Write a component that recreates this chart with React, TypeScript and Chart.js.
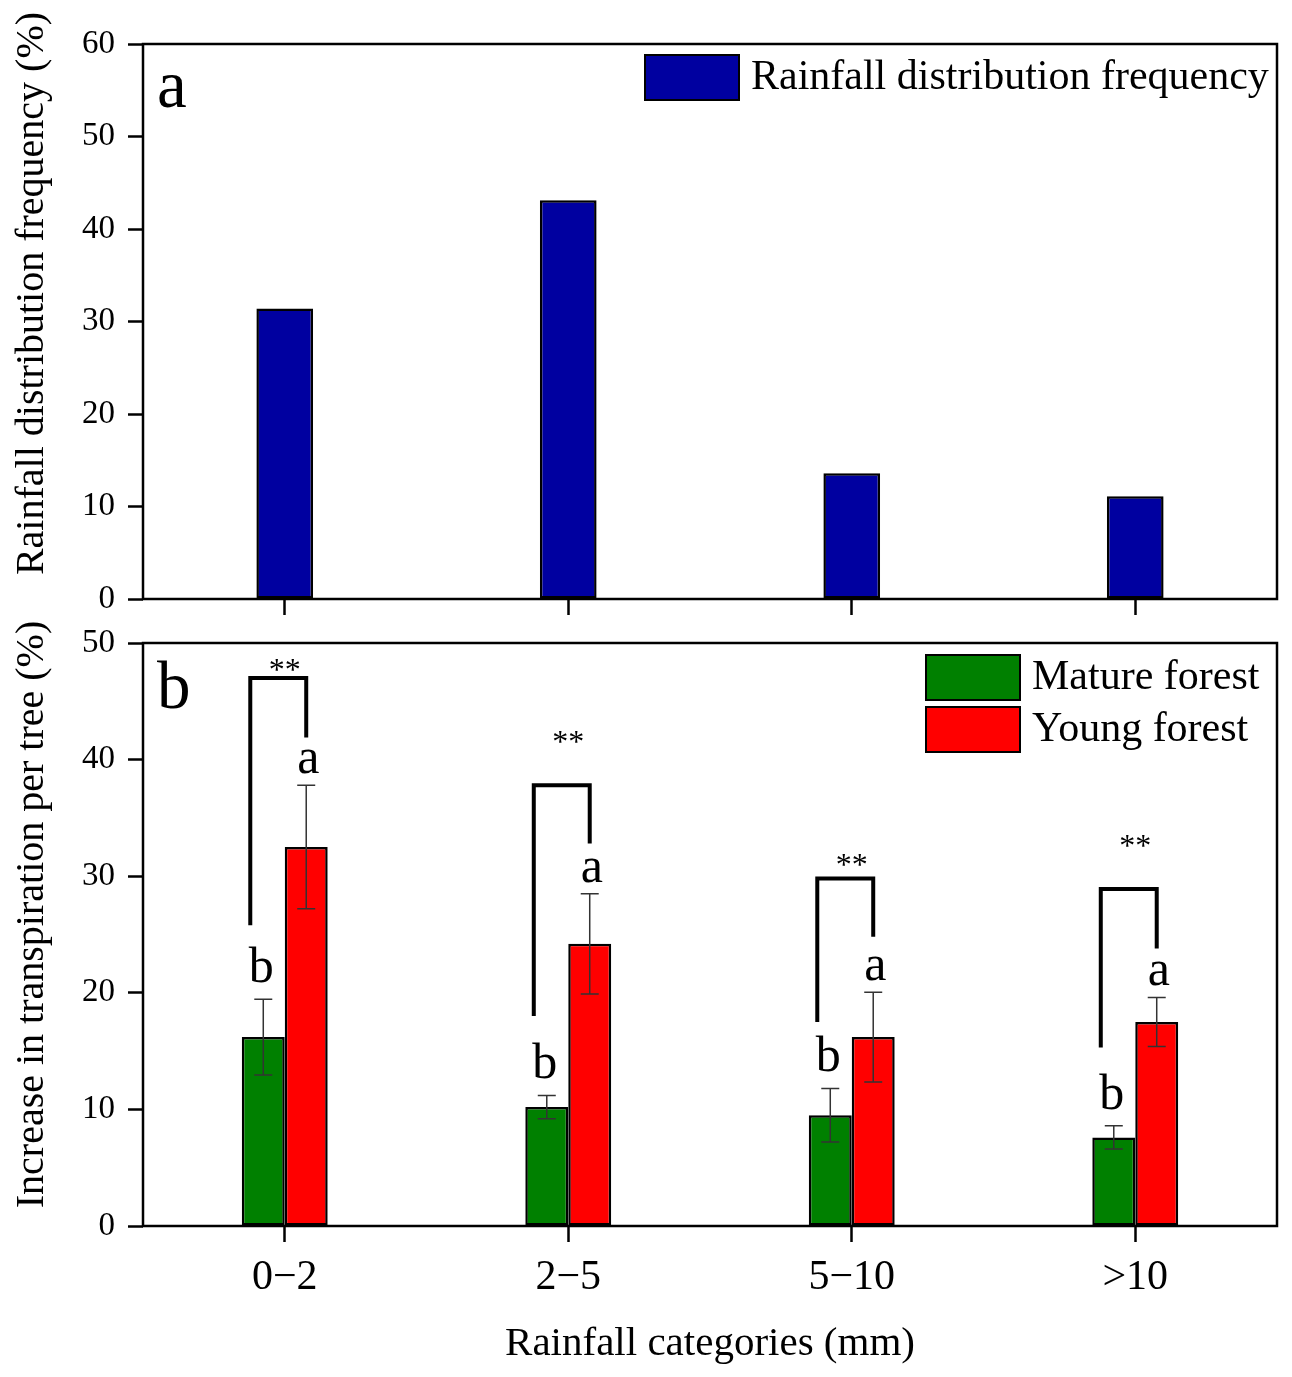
import React, { useEffect, useRef } from 'react';
import { Chart, registerables } from 'chart.js';

Chart.register(...registerables);

const SERIF = "'Liberation Serif', 'Times New Roman', serif";

// categories shared by both panels
const categories = ['0\u22122', '2\u22125', '5\u221210', '>10'];

// panel a
const rainfallFreq = [31.4, 43.1, 13.6, 11.1];

// panel b
const matureForest = [16.2, 10.2, 9.5, 7.6];
const matureErr = [3.25, 1.0, 2.3, 1.0];
const youngForest = [32.5, 24.2, 16.2, 17.5];
const youngErr = [5.3, 4.3, 3.85, 2.1];
const matureLetters = ['b', 'b', 'b', 'b'];
const youngLetters = ['a', 'a', 'a', 'a'];
const sigLabels = ['**', '**', '**', '**'];
const sigY = [48.1, 41.9, 31.4, 33.0];
const bracketTop = [47.0, 37.8, 29.8, 28.9];
const bracketLeftEnd = [25.8, 18.0, 17.5, 15.3];
const bracketRightEnd = [41.9, 32.8, 24.8, 23.8];

const BLUE = '#0000A0';
const GREEN = '#008000';
const RED = '#FF0000';

// frame + panel letter + legend + rotated y title
const panelDecor = (
  letter: string,
  letterBase: number,
  legend: { label: string; color: string }[],
  legendLeft: number,
  legendTop: number,
  yTitle: string,
  yTitleShift: number
) => ({
  id: 'panelDecor',
  afterDraw(chart: any) {
    const { ctx, chartArea: a } = chart;
    ctx.save();
    ctx.strokeStyle = '#000';
    ctx.lineWidth = 2.5;
    ctx.strokeRect(a.left, a.top, a.right - a.left, a.bottom - a.top);

    ctx.fillStyle = '#000';
    ctx.font = `67px ${SERIF}`;
    ctx.textAlign = 'left';
    ctx.textBaseline = 'alphabetic';
    ctx.fillText(letter, a.left + 14, a.top + letterBase);

    legend.forEach((item, i) => {
      const top = legendTop + i * 52;
      ctx.fillStyle = item.color;
      ctx.fillRect(legendLeft, top, 94, 45);
      ctx.lineWidth = 2;
      ctx.strokeRect(legendLeft, top, 94, 45);
      ctx.fillStyle = '#000';
      ctx.font = `42px ${SERIF}`;
      ctx.textBaseline = 'middle';
      ctx.fillText(item.label, legendLeft + 106, top + 23);
    });

    ctx.translate(32, (a.top + a.bottom) / 2 + yTitleShift);
    ctx.rotate(-Math.PI / 2);
    ctx.font = `40px ${SERIF}`;
    ctx.textAlign = 'center';
    ctx.textBaseline = 'middle';
    ctx.fillText(yTitle, 0, 0);
    ctx.restore();
  },
});

// error bars, significance letters and brackets for panel b
const annotations = {
  id: 'annotations',
  afterDatasetsDraw(chart: any) {
    const { ctx } = chart;
    const y = chart.scales.y;
    const green = chart.getDatasetMeta(0).data;
    const red = chart.getDatasetMeta(1).data;
    const xs = chart.scales.x;
    ctx.save();

    const errBar = (x: number, v: number, e: number) => {
      const t = y.getPixelForValue(v + e);
      const b = y.getPixelForValue(v - e);
      ctx.strokeStyle = '#333';
      ctx.lineWidth = 1.5;
      ctx.beginPath();
      ctx.moveTo(x, t);
      ctx.lineTo(x, b);
      ctx.moveTo(x - 9, t);
      ctx.lineTo(x + 9, t);
      ctx.moveTo(x - 9, b);
      ctx.lineTo(x + 9, b);
      ctx.stroke();
      return t;
    };

    categories.forEach((_, i) => {
      const gx = green[i].x;
      const rx = red[i].x;
      const gTop = errBar(gx, matureForest[i], matureErr[i]);
      const rTop = errBar(rx, youngForest[i], youngErr[i]);

      ctx.fillStyle = '#000';
      ctx.font = `50px ${SERIF}`;
      ctx.textAlign = 'center';
      ctx.textBaseline = 'alphabetic';
      ctx.fillText(matureLetters[i], gx - 2, gTop - 17);
      ctx.fillText(youngLetters[i], rx + 2, rTop - 12);

      const lx = gx - 13;
      ctx.strokeStyle = '#000';
      ctx.lineWidth = 4;
      ctx.lineJoin = 'miter';
      ctx.beginPath();
      ctx.moveTo(lx, y.getPixelForValue(bracketLeftEnd[i]));
      ctx.lineTo(lx, y.getPixelForValue(bracketTop[i]));
      ctx.lineTo(rx, y.getPixelForValue(bracketTop[i]));
      ctx.lineTo(rx, y.getPixelForValue(bracketRightEnd[i]));
      ctx.stroke();

      ctx.font = `32px ${SERIF}`;
      ctx.fillText(sigLabels[i], xs.getPixelForValue(i), y.getPixelForValue(sigY[i]) + 15);
    });
    ctx.restore();
  },
};

const tickGrid = (len: number) => ({
  offset: false,
  drawOnChartArea: false,
  drawTicks: true,
  tickLength: len,
  tickWidth: 2.5,
  tickColor: '#000',
});

// fixed scale sizes, no label overhang padding
const fixWidth = (w: number) => (s: any) => {
  s.width = w;
  s.paddingTop = 0;
  s.paddingBottom = 0;
};
const fixHeight = (h: number) => (s: any) => {
  s.height = h;
  s.paddingLeft = 0;
  s.paddingRight = 0;
};

const App: React.FC = () => {
  const refA = useRef<HTMLCanvasElement | null>(null);
  const refB = useRef<HTMLCanvasElement | null>(null);

  useEffect(() => {
    if (!refA.current || !refB.current) return;
    Chart.defaults.font.family = SERIF;
    Chart.defaults.color = '#000';

    const chartA = new Chart(refA.current, {
      type: 'bar',
      data: {
        labels: categories,
        datasets: [
          {
            label: 'Rainfall distribution frequency',
            data: rainfallFreq,
            backgroundColor: BLUE,
            borderColor: '#000',
            borderWidth: 2.5,
            borderSkipped: false,
            barPercentage: 0.2,
            categoryPercentage: 1,
          },
        ],
      },
      options: {
        responsive: true,
        maintainAspectRatio: false,
        animation: false,
        layout: { padding: { left: 0, right: 15, top: 44, bottom: 0 } },
        plugins: { legend: { display: false }, tooltip: { enabled: false } },
        scales: {
          x: {
            offset: true,
            grid: tickGrid(16),
            border: { display: false },
            ticks: { display: false },
            afterFit: fixHeight(21),
          },
          y: {
            min: 0,
            max: 60,
            ticks: { stepSize: 10, font: { size: 33 }, color: '#000', padding: 13 },
            grid: tickGrid(15),
            border: { display: false },
            afterFit: fixWidth(143),
          },
        },
      },
      plugins: [
        panelDecor(
          'a',
          63,
          [{ label: 'Rainfall distribution frequency', color: BLUE }],
          645,
          55,
          'Rainfall distribution frequency (%)',
          -28
        ),
      ],
    } as any);

    const chartB = new Chart(refB.current, {
      type: 'bar',
      data: {
        labels: categories,
        datasets: [
          {
            label: 'Mature forest',
            data: matureForest,
            backgroundColor: GREEN,
            borderColor: '#000',
            borderWidth: 2.5,
            borderSkipped: false,
            barPercentage: 1,
            categoryPercentage: 0.303,
          },
          {
            label: 'Young forest',
            data: youngForest,
            backgroundColor: RED,
            borderColor: '#000',
            borderWidth: 2.5,
            borderSkipped: false,
            barPercentage: 1,
            categoryPercentage: 0.303,
          },
        ],
      },
      options: {
        responsive: true,
        maintainAspectRatio: false,
        animation: false,
        layout: { padding: { left: 0, right: 15, top: 23, bottom: 0 } },
        plugins: { legend: { display: false }, tooltip: { enabled: false } },
        scales: {
          x: {
            offset: true,
            grid: tickGrid(16),
            border: { display: false },
            ticks: { font: { size: 42 }, color: '#000', padding: 11, maxRotation: 0 },
            title: {
              display: true,
              text: 'Rainfall categories (mm)',
              font: { size: 41 },
              color: '#000',
              padding: { top: 0, bottom: 8 },
            },
            afterFit: fixHeight(151),
          },
          y: {
            min: 0,
            max: 50,
            ticks: { stepSize: 10, font: { size: 33 }, color: '#000', padding: 13 },
            grid: tickGrid(15),
            border: { display: false },
            afterFit: fixWidth(143),
          },
        },
      },
      plugins: [
        annotations,
        panelDecor(
          'b',
          65,
          [
            { label: 'Mature forest', color: GREEN },
            { label: 'Young forest', color: RED },
          ],
          926,
          35,
          'Increase in transpiration per tree (%)',
          -20
        ),
      ],
    } as any);

    return () => {
      chartA.destroy();
      chartB.destroy();
    };
  }, []);

  return (
    <div style={{ position: 'absolute', left: 0, top: 0, width: 1292, height: 1377, background: '#fff' }}>
      <div style={{ position: 'relative', width: 1292, height: 620 }}>
        <canvas ref={refA}></canvas>
      </div>
      <div style={{ position: 'relative', width: 1292, height: 757 }}>
        <canvas ref={refB}></canvas>
      </div>
    </div>
  );
};

export default App;
